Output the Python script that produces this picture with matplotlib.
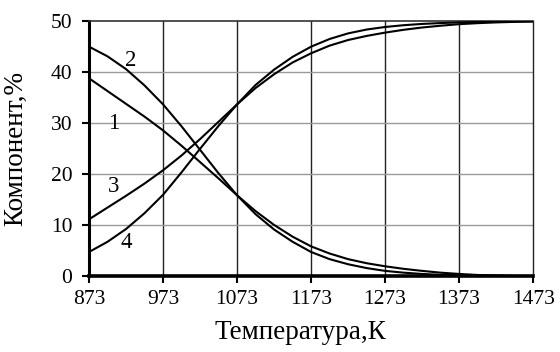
import matplotlib
matplotlib.use("Agg")
import matplotlib.pyplot as plt
import numpy as np

plt.rcParams['font.family'] = ['Liberation Serif', 'DejaVu Serif']

# temperature grid, K
temperature = [873, 898, 923, 948, 973, 998, 1023, 1048, 1073, 1098, 1123, 1148, 1173,
               1198, 1223, 1248, 1273, 1298, 1323, 1348, 1373, 1398, 1423, 1448, 1473]

# component content, %
curve_1 = [38.8, 36.3, 33.8, 31.3, 28.6, 25.6, 22.4, 19.2, 15.9, 12.8, 10.1, 7.8, 5.9,
           4.5, 3.4, 2.6, 2.0, 1.5, 1.1, 0.75, 0.5, 0.3, 0.2, 0.1, 0.05]
curve_2 = [45.0, 43.1, 40.6, 37.4, 33.7, 29.4, 24.8, 20.2, 15.9, 12.2, 9.2, 6.8, 4.8,
           3.4, 2.4, 1.65, 1.1, 0.75, 0.5, 0.33, 0.2, 0.12, 0.08, 0.05, 0.03]
curve_3 = [11.2, 13.5, 15.8, 18.2, 20.8, 23.7, 26.9, 30.3, 33.7, 36.9, 39.6, 41.9, 43.7,
           45.2, 46.3, 47.1, 47.75, 48.3, 48.75, 49.1, 49.4, 49.6, 49.75, 49.85, 49.92]
curve_4 = [4.8, 6.8, 9.3, 12.4, 16.0, 20.4, 25.0, 29.5, 33.7, 37.5, 40.5, 43.0, 45.0,
           46.5, 47.6, 48.35, 48.85, 49.2, 49.45, 49.62, 49.75, 49.84, 49.9, 49.94, 49.97]

curve_names = ['1', '2', '3', '4']
label_pos = [(906, 30.0), (929, 42.2), (906, 17.6), (923, 6.6)]

x_ticks = [873, 973, 1073, 1173, 1273, 1373, 1473]
y_ticks = [0, 10, 20, 30, 40, 50]


def main():
    fig = plt.figure(figsize=(5.6, 3.52), dpi=100)
    ax = fig.add_axes([0.159, 0.2145, 0.793, 0.7255])

    # grid: dark vertical, grey horizontal (outer frame via spines)
    for xt in x_ticks[1:-1]:
        ax.axvline(xt, color='#222222', lw=1.0, zorder=1)
    for yt in y_ticks[1:-1]:
        ax.axhline(yt, color='#9a9a9a', lw=1.0, zorder=1)

    for series in [curve_1, curve_2, curve_3, curve_4]:
        ax.plot(temperature, series, color='black', lw=1.5, zorder=3)

    for name, (tx, ty) in zip(curve_names, label_pos):
        ax.text(tx, ty, name, fontsize=16.5, ha='center', va='center', zorder=4)

    ax.set_xlim(873, 1473)
    ax.set_ylim(0, 50)
    ax.set_xticks(x_ticks)
    ax.set_yticks(y_ticks)
    ax.tick_params(axis='both', labelsize=15.5, width=1.5, length=5, color='black')
    ax.tick_params(axis='x', pad=5)
    ax.tick_params(axis='y', pad=7)

    ax.spines['top'].set_color('#333333')
    ax.spines['top'].set_linewidth(1.2)
    ax.spines['right'].set_color('#222222')
    ax.spines['right'].set_linewidth(1.0)
    ax.spines['left'].set_linewidth(2.2)
    ax.spines['bottom'].set_linewidth(2.6)

    ax.set_xlabel('Температура,К', fontsize=19.5)
    ax.xaxis.set_label_coords(0.475, -0.17)
    ax.set_ylabel('Компонент,%', fontsize=19.5)
    ax.yaxis.set_label_coords(-0.137, 0.5)

    fig.savefig('out.png', dpi=100)
    plt.close(fig)


if __name__ == "__main__":
    main()
